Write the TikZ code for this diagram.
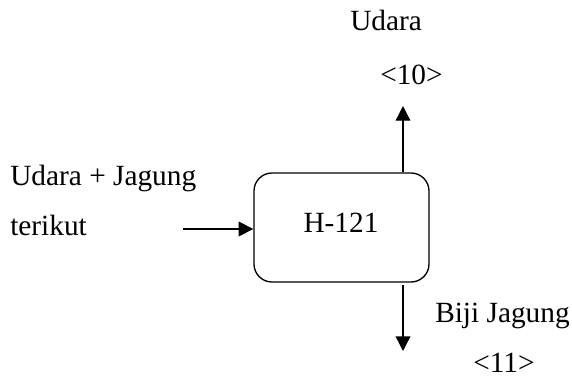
\documentclass[tikz,border=0pt]{standalone}
\usepackage{fontspec}
\setmainfont{Liberation Serif}
\usetikzlibrary{arrows.meta}
\begin{document}
\begin{tikzpicture}[x=0.75pt,y=-0.75pt,
  lbl/.style={anchor=base west,inner sep=0pt,font=\fontsize{22}{26}\selectfont},
  flow/.style={line width=1pt,-{Triangle[width=11pt,length=11pt]}},
  unit/.style={draw,line width=1pt,rounded corners=13.5pt,minimum width=131.25pt,minimum height=81.75pt,inner sep=0pt}]
\useasboundingbox (0,0) rectangle (572,379);
\node[unit] (box) at (341.5,227.5) {};
\node[anchor=base,inner sep=0pt,font=\fontsize{22}{26}\selectfont] (name) at (341,232) {H-121};
\node[lbl] (udara) at (350,30) {Udara};
\node[lbl] (s10) at (380,84) {<10>};
\node[lbl] (in1) at (10,185) {Udara + Jagung};
\node[lbl] (in2) at (10,235) {terikut};
\node[lbl] (biji) at (435,322) {Biji Jagung};
\node[lbl] (s11) at (473,372) {<11>};
\coordinate (inS) at (183,229);
\coordinate (upE) at (403,106);
\coordinate (dnS) at (403,285);
\coordinate (dnE) at (403,351);
\draw[flow] (inS) -- (inS -| box.west);
\draw[flow] (upE |- box.north) -- (upE);
\draw[flow] (dnS) -- (dnE);
\end{tikzpicture}
\end{document}
